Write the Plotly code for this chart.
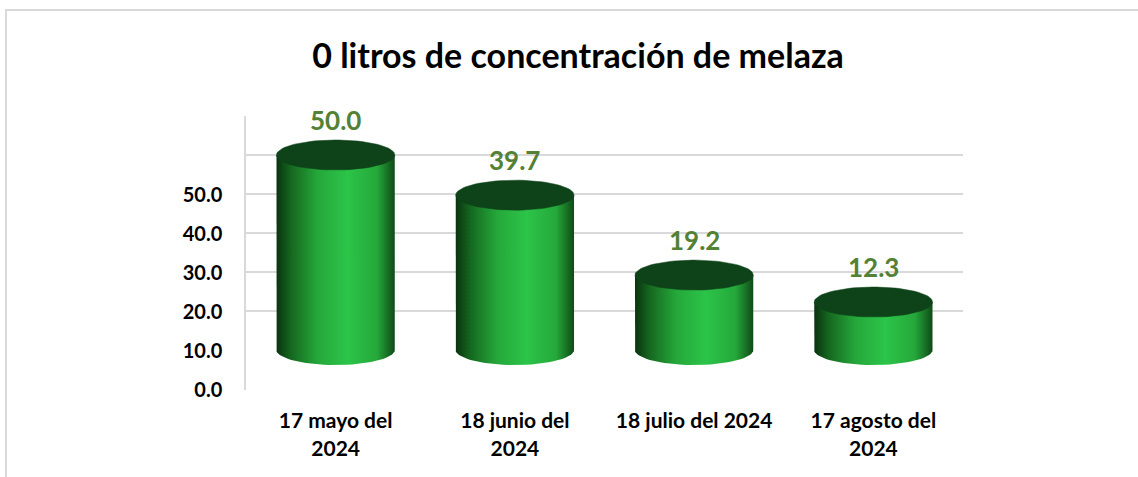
import numpy as np
import plotly.graph_objects as go

# data
categories = ["17 mayo del<br>2024", "18 junio del<br>2024", "18 julio del 2024", "17 agosto del<br>2024"]
litros = [50.0, 39.7, 19.2, 12.3]
label_ticks = [0, 10, 20, 30, 40, 50]
grid_ticks = [10, 20, 30, 40, 50, 60]

W, H = 1138, 477
M_L, M_R, M_T, M_B = 246, 175, 116, 87
PX_PER_UNIT = 3.9
DEPTH = 10.26          # 3D back-wall shift of the value labels (in axis units)
Y_MIN, Y_MAX = -DEPTH, 60

HALF_W = 0.33          # cylinder radius in category units
ELL_R = 15 / PX_PER_UNIT  # ellipse vertical radius in axis units

GREEN_TXT = "#538135"
GRID = "#D9D9D9"
FONT = "Lato"

body_scale = [
    [0.0, "#0A3310"],
    [0.12, "#15661F"],
    [0.35, "#25A83A"],
    [0.6, "#2CC449"],
    [0.85, "#25A83A"],
    [1.0, "#0F4A17"],
]

fig = go.Figure()

t_low = np.linspace(np.pi, 2 * np.pi, 40)
t_all = np.linspace(0, 2 * np.pi, 80)

for i, v in enumerate(litros):
    # body: sides + lower half of bottom ellipse
    xs = [i - HALF_W] + list(i + HALF_W * np.cos(t_low)) + [i + HALF_W, i - HALF_W]
    ys = [v] + list(ELL_R * np.sin(t_low)) + [v, v]
    fig.add_trace(go.Scatter(
        x=xs, y=ys, mode="lines", fill="toself",
        line=dict(width=0, color="rgba(0,0,0,0)"),
        fillgradient=dict(type="horizontal", colorscale=body_scale),
        hoverinfo="skip", showlegend=False,
    ))
    # top cap
    fig.add_trace(go.Scatter(
        x=i + HALF_W * np.cos(t_all), y=v + ELL_R * np.sin(t_all),
        mode="lines", fill="toself", fillcolor="#0E4219",
        line=dict(width=0.5, color="#0E4219"),
        hoverinfo="skip", showlegend=False,
    ))
    fig.add_annotation(
        x=i, y=v, text=f"<b>{v:.1f}</b>", showarrow=False,
        yshift=35, font=dict(family=FONT, size=26, color=GREEN_TXT),
    )

# value labels on a shifted axis (Excel 3D look)
fig.add_trace(go.Scatter(x=[None], y=[None], yaxis="y2", showlegend=False))

# chart border
pw = W - M_L - M_R
ph = H - M_T - M_B
fig.add_shape(
    type="rect", xref="paper", yref="paper",
    x0=(6 - M_L) / pw, x1=(W + 5 - M_L) / pw,
    y0=(H - M_B - (H + 5)) / ph, y1=(H - M_B - 10) / ph,
    line=dict(color=GRID, width=2), layer="below",
)

fig.update_layout(
    width=W, height=H,
    margin=dict(l=M_L, r=M_R, t=M_T, b=M_B),
    paper_bgcolor="white", plot_bgcolor="white",
    font=dict(family=FONT, color="black"),
    title=dict(
        text="<b>0 litros de concentración de melaza</b>",
        x=578 / W, xanchor="center", y=1 - 56 / H, yanchor="middle", yref="container",
        font=dict(family=FONT, size=34, color="black"),
    ),
    xaxis=dict(
        range=[-0.5, 3.5], tickvals=list(range(len(categories))), ticktext=[f"<b>{c}</b>" for c in categories],
        showgrid=False, zeroline=False, showline=False,
        ticks="outside", ticklen=12, tickcolor="rgba(0,0,0,0)",
        tickfont=dict(family=FONT, size=21, color="black"),
    ),
    yaxis=dict(
        range=[Y_MIN, Y_MAX], tickvals=grid_ticks, showticklabels=False,
        showgrid=True, gridcolor=GRID, gridwidth=1.5, zeroline=False,
    ),
    yaxis2=dict(
        range=[Y_MIN + DEPTH, Y_MAX + DEPTH], overlaying="y", side="left",
        tickvals=label_ticks, ticktext=[f"<b>{t:.1f}</b>" for t in label_ticks],
        showgrid=False, zeroline=False, showline=True, linecolor=GRID, linewidth=1.5,
        ticks="outside", ticklen=18, tickcolor="rgba(0,0,0,0)",
        tickfont=dict(family=FONT, size=20, color="black"),
    ),
)

fig.write_html(
    "out.html",
    config={"displayModeBar": False},
    post_script="document.body.style.margin='0';",
)
